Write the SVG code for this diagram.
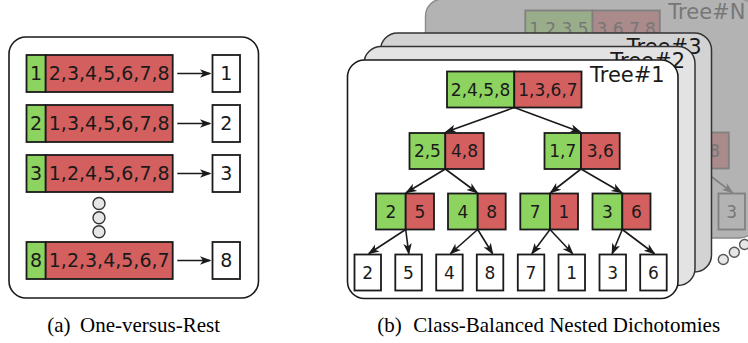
<svg xmlns="http://www.w3.org/2000/svg" width="748" height="343" viewBox="0 0 748 343">
<defs>
<style>
.g{fill:#8dd35f;stroke:#1a1a1a;stroke-width:1.8}
.r{fill:#d35f5f;stroke:#1a1a1a;stroke-width:1.8}
.w{fill:#fff;stroke:#1a1a1a;stroke-width:1.8}
.t{font-family:"DejaVu Sans","Liberation Sans",sans-serif;font-size:17px;text-anchor:middle;fill:#1a1a1a}
.tl{font-family:"DejaVu Sans","Liberation Sans",sans-serif;font-size:19px;text-anchor:middle;fill:#1a1a1a}
.lbl{font-family:"DejaVu Sans","Liberation Sans",sans-serif;font-size:21px;fill:#1a1a1a}
.cap{font-family:"Liberation Serif","Times New Roman",serif;font-size:21px;fill:#000}
.card{fill:#fff;stroke:#1a1a1a;stroke-width:1.6}
.e{fill:none;stroke:#1a1a1a;stroke-width:1.6;marker-end:url(#ah)}
.eN{fill:none;stroke:#808080;stroke-width:1.6;marker-end:url(#ahN)}
.gN{fill:#9aad8a;stroke:#808080;stroke-width:1.8}
.rN{fill:#aa8a8a;stroke:#808080;stroke-width:1.8}
.wN{fill:none;stroke:#808080;stroke-width:1.8}
.tN{font-family:"DejaVu Sans","Liberation Sans",sans-serif;font-size:17px;text-anchor:middle;fill:#777}
.dot{fill:#e6e6e6;stroke:#333;stroke-width:1.4}
</style>
<marker id="ah" viewBox="-12 -5 14 10" refX="0" refY="0" markerWidth="14" markerHeight="10" markerUnits="userSpaceOnUse" orient="auto"><path d="M1.5,0 L-10,-4.2 L-7,0 L-10,4.2 Z" fill="#1a1a1a"/></marker>
<marker id="ahN" viewBox="-12 -5 14 10" refX="0" refY="0" markerWidth="14" markerHeight="10" markerUnits="userSpaceOnUse" orient="auto"><path d="M1.5,0 L-10,-4.2 L-7,0 L-10,4.2 Z" fill="#808080"/></marker>
</defs>

<!-- (a) One-versus-Rest -->
<g id="panel-a">
<rect x="9" y="37" width="249.5" height="261" rx="17" class="card" stroke-width="1.8"/>
</g>
<g id="ovr-1">
<rect x="26.5" y="55" width="19.2" height="37" class="g"/><rect x="45.7" y="55" width="127" height="37" class="r"/>
<text x="36.1" y="80.4" class="tl">1</text><text x="109.2" y="80.4" class="tl">2,3,4,5,6,7,8</text>
</g>
<g id="ovr-2">
<rect x="26.5" y="105" width="19.2" height="37" class="g"/><rect x="45.7" y="105" width="127" height="37" class="r"/>
<text x="36.1" y="130.4" class="tl">2</text><text x="109.2" y="130.4" class="tl">1,3,4,5,6,7,8</text>
</g>
<g id="ovr-3">
<rect x="26.5" y="155" width="19.2" height="37" class="g"/><rect x="45.7" y="155" width="127" height="37" class="r"/>
<text x="36.1" y="180.4" class="tl">3</text><text x="109.2" y="180.4" class="tl">1,2,4,5,6,7,8</text>
</g>
<g id="ovr-8">
<rect x="26.5" y="242" width="19.2" height="37" class="g"/><rect x="45.7" y="242" width="127" height="37" class="r"/>
<text x="36.1" y="267.4" class="tl">8</text><text x="109.2" y="267.4" class="tl">1,2,3,4,5,6,7</text>
</g>
<g id="out-1"><rect x="212.5" y="55" width="27.5" height="37" class="w"/><text x="226.2" y="80.4" class="tl">1</text></g>
<g id="out-2"><rect x="212.5" y="105" width="27.5" height="37" class="w"/><text x="226.2" y="130.4" class="tl">2</text></g>
<g id="out-3"><rect x="212.5" y="155" width="27.5" height="37" class="w"/><text x="226.2" y="180.4" class="tl">3</text></g>
<g id="out-8"><rect x="212.5" y="242" width="27.5" height="37" class="w"/><text x="226.2" y="267.4" class="tl">8</text></g>
<g id="ellipsis-a">
<circle cx="99" cy="203.5" r="6" class="dot"/><circle cx="99" cy="217.7" r="6" class="dot"/><circle cx="99" cy="231.8" r="6" class="dot"/>
</g>
<g id="connectors-a">
<line x1="177.3" y1="73.5" x2="210" y2="73.5" class="e" stroke-width="1.8"/>
<line x1="177.3" y1="123.5" x2="210" y2="123.5" class="e" stroke-width="1.8"/>
<line x1="177.3" y1="173.5" x2="210" y2="173.5" class="e" stroke-width="1.8"/>
<line x1="177.3" y1="260.5" x2="210" y2="260.5" class="e" stroke-width="1.8"/>
</g>

<!-- (b) Tree#N (faded, back) -->
<g id="tree-N">
<rect x="425.5" y="-1" width="331" height="239" rx="17" fill="#b3b3b3" stroke="#8a8a8a" stroke-width="1.4"/>
<text x="668.3" y="18.8" class="lbl" fill="#777" style="fill:#777">Tree#N</text>
<g transform="translate(78.3,-61)">
<g id="treeN-root">
<rect x="447" y="71.5" width="67.3" height="36" class="gN"/><rect x="514.3" y="71.5" width="67.2" height="36" class="rN"/>
<text x="480.6" y="95.7" class="tN">1,2,3,5</text><text x="547.9" y="95.7" class="tN">3,6,7,8</text>
</g>
<g id="treeN-node">
<rect x="592.5" y="193.5" width="29.8" height="36" class="gN"/><rect x="622.3" y="193.5" width="28.2" height="36" class="rN"/>
<text x="636.4" y="217.7" class="tN">8</text>
</g>
<g id="treeN-leaf"><rect x="640.2" y="254.5" width="26.5" height="36" class="wN"/><text x="653.4" y="278.7" class="tN">3</text></g>
<g id="treeN-connectors"><line x1="622.3" y1="229.5" x2="654" y2="253.5" class="eN"/></g>
</g>
</g>
<g id="ellipsis-b">
<circle cx="723.3" cy="259.5" r="5" class="dot" stroke="#555" style="stroke:#555"/>
<circle cx="734.3" cy="252.3" r="5" class="dot" style="stroke:#555"/>
<circle cx="744.6" cy="244.5" r="5" class="dot" style="stroke:#555"/>
</g>

<!-- Tree#3 and Tree#2 -->
<g id="tree-3">
<rect x="380.5" y="33" width="331" height="239" rx="17" fill="#d3d3d3" stroke="#333" stroke-width="1.5"/>
<text x="701.5" y="54" class="lbl" text-anchor="end">Tree#3</text>
</g>
<g id="tree-2">
<rect x="364" y="46.5" width="331" height="239" rx="17" fill="#e3e3e3" stroke="#333" stroke-width="1.5"/>
<text x="685" y="67.5" class="lbl" text-anchor="end">Tree#2</text>
</g>

<!-- Tree#1 -->
<g id="tree-1">
<rect x="347.5" y="60" width="330.5" height="238.5" rx="17" class="card"/>
<text x="590" y="81.5" class="lbl">Tree#1</text>
</g>
<g id="t1-root">
<rect x="447" y="71.5" width="67.3" height="36" class="g"/><rect x="514.3" y="71.5" width="67.2" height="36" class="r"/>
<text x="480.6" y="95.7" class="t">2,4,5,8</text><text x="547.9" y="95.7" class="t">1,3,6,7</text>
</g>
<g id="t1-n25">
<rect x="409.5" y="133" width="35.8" height="36" class="g"/><rect x="445.3" y="133" width="38.4" height="36" class="r"/>
<text x="427.4" y="157.2" class="t">2,5</text><text x="464.5" y="157.2" class="t">4,8</text>
</g>
<g id="t1-n17">
<rect x="544.5" y="133" width="36.5" height="36" class="g"/><rect x="581" y="133" width="38.7" height="36" class="r"/>
<text x="562.7" y="157.2" class="t">1,7</text><text x="600.3" y="157.2" class="t">3,6</text>
</g>
<g id="t1-n2">
<rect x="376" y="193.5" width="29.7" height="36" class="g"/><rect x="405.7" y="193.5" width="28.3" height="36" class="r"/>
<text x="390.8" y="217.7" class="t">2</text><text x="419.8" y="217.7" class="t">5</text>
</g>
<g id="t1-n4">
<rect x="448" y="193.5" width="29.7" height="36" class="g"/><rect x="477.7" y="193.5" width="28" height="36" class="r"/>
<text x="462.8" y="217.7" class="t">4</text><text x="491.7" y="217.7" class="t">8</text>
</g>
<g id="t1-n7">
<rect x="520.3" y="193.5" width="29.7" height="36" class="g"/><rect x="550" y="193.5" width="28" height="36" class="r"/>
<text x="535.1" y="217.7" class="t">7</text><text x="564" y="217.7" class="t">1</text>
</g>
<g id="t1-n3">
<rect x="592.5" y="193.5" width="29.8" height="36" class="g"/><rect x="622.3" y="193.5" width="28.2" height="36" class="r"/>
<text x="607.4" y="217.7" class="t">3</text><text x="636.4" y="217.7" class="t">6</text>
</g>
<g id="t1-leaf-2"><rect x="354.5" y="254.5" width="26.5" height="36" class="w"/><text x="367.7" y="278.7" class="t">2</text></g>
<g id="t1-leaf-5"><rect x="395.3" y="254.5" width="26.5" height="36" class="w"/><text x="408.5" y="278.7" class="t">5</text></g>
<g id="t1-leaf-4"><rect x="436.2" y="254.5" width="26.5" height="36" class="w"/><text x="449.4" y="278.7" class="t">4</text></g>
<g id="t1-leaf-8"><rect x="476.8" y="254.5" width="26.5" height="36" class="w"/><text x="490" y="278.7" class="t">8</text></g>
<g id="t1-leaf-7"><rect x="517.8" y="254.5" width="26.5" height="36" class="w"/><text x="531" y="278.7" class="t">7</text></g>
<g id="t1-leaf-1"><rect x="558.5" y="254.5" width="26.5" height="36" class="w"/><text x="571.7" y="278.7" class="t">1</text></g>
<g id="t1-leaf-3"><rect x="599.5" y="254.5" width="26.5" height="36" class="w"/><text x="612.7" y="278.7" class="t">3</text></g>
<g id="t1-leaf-6"><rect x="640.2" y="254.5" width="26.5" height="36" class="w"/><text x="653.4" y="278.7" class="t">6</text></g>
<g id="connectors-b">
<line x1="514.3" y1="107.5" x2="446" y2="132" class="e"/>
<line x1="514.3" y1="107.5" x2="580.3" y2="132" class="e"/>
<line x1="445.3" y1="169" x2="406.5" y2="192.5" class="e"/>
<line x1="445.3" y1="169" x2="477" y2="192.5" class="e"/>
<line x1="581" y1="169" x2="550.8" y2="192.5" class="e"/>
<line x1="581" y1="169" x2="621.5" y2="192.5" class="e"/>
<line x1="405.7" y1="229.5" x2="369" y2="253.5" class="e"/>
<line x1="405.7" y1="229.5" x2="408.8" y2="253.5" class="e"/>
<line x1="477.7" y1="229.5" x2="450.6" y2="253.5" class="e"/>
<line x1="477.7" y1="229.5" x2="492.5" y2="253.5" class="e"/>
<line x1="550" y1="229.5" x2="532" y2="253.5" class="e"/>
<line x1="550" y1="229.5" x2="572.5" y2="253.5" class="e"/>
<line x1="622.3" y1="229.5" x2="612.2" y2="253.5" class="e"/>
<line x1="622.3" y1="229.5" x2="654.3" y2="253.5" class="e"/>
</g>

<!-- captions -->
<text x="47.3" y="331.5" class="cap">(a)</text>
<text x="80" y="331.5" class="cap">One-versus-Rest</text>
<text x="377.3" y="331.5" class="cap">(b)</text>
<text x="413.3" y="331.5" class="cap">Class-Balanced Nested Dichotomies</text>
</svg>
